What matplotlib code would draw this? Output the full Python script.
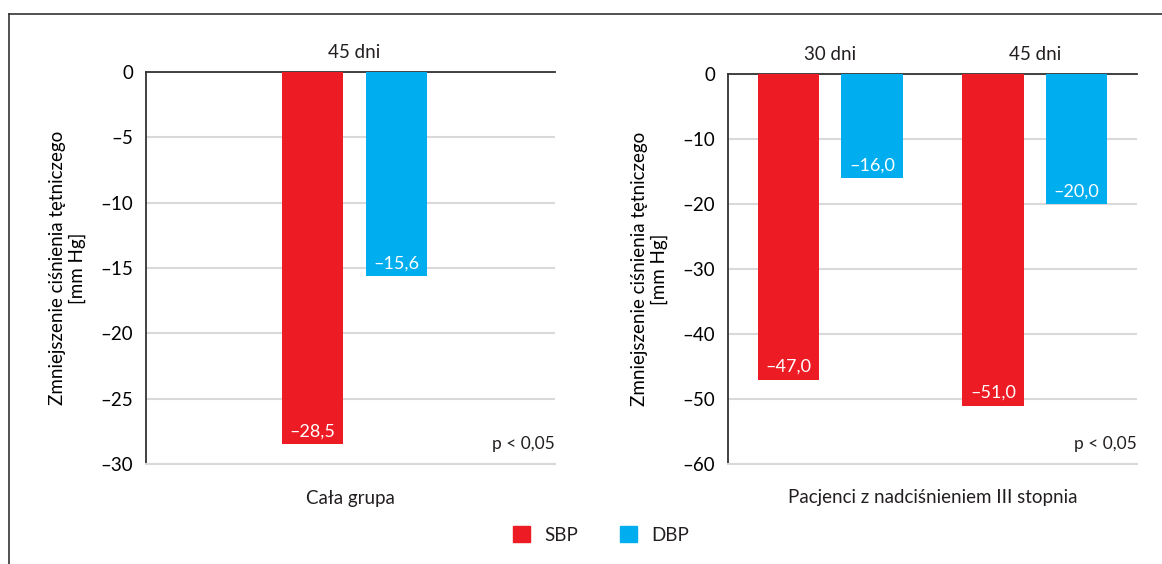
import matplotlib
matplotlib.use("Agg")
import matplotlib.pyplot as plt
from matplotlib.lines import Line2D
from matplotlib.patches import Patch
from matplotlib.ticker import FuncFormatter

plt.rcParams['font.family'] = ['Lato', 'DejaVu Sans']
plt.rcParams['font.size'] = 13.5
plt.rcParams['text.color'] = '#231f20'

# dane
series = ['SBP', 'DBP']
colors = ['#ed1c24', '#00aeef']

left_groups = ['45 dni']
left_sbp = [-28.5]
left_dbp = [-15.6]
left_ticks = [0, -5, -10, -15, -20, -25, -30]
left_title = 'Cała grupa'

right_groups = ['30 dni', '45 dni']
right_sbp = [-47.0, -51.0]
right_dbp = [-16.0, -20.0]
right_ticks = [0, -10, -20, -30, -40, -50, -60]
right_title = 'Pacjenci z nadciśnieniem III stopnia'

ylabel = 'Zmniejszenie ciśnienia tętniczego\n[mm Hg]'
p_text = 'p < 0,05'

fig = plt.figure(figsize=(11.62, 5.64), dpi=100)

# ramka: górna i lewa linia
fig.add_artist(Line2D([9/1162, 1], [1-14/564, 1-14/564], color='#333333', lw=1.2))
fig.add_artist(Line2D([9/1162, 9/1162], [0, 1-14/564], color='#333333', lw=1.2))

bw = 0.30
off = 0.205


def fmt(v):
    s = f'{abs(v):.1f}'.replace('.', ',')
    return ('–' + s) if v < 0 else s


def panel(rect, groups, sbp, dbp, ticks, xlim, title):
    ax = fig.add_axes(rect)
    xs = list(range(len(groups)))
    for vals, c, sgn in [(sbp, colors[0], -1), (dbp, colors[1], 1)]:
        pos = [x + sgn * off for x in xs]
        ax.bar(pos, vals, width=bw, color=c, zorder=3)
        for x, v in zip(pos, vals):
            ax.annotate(fmt(v), (x, v), xytext=(0, 9), textcoords='offset points',
                        ha='center', va='center', color='white', fontsize=13, zorder=4)
    ax.set_xlim(*xlim)
    ax.set_ylim(ticks[-1], 0)
    ax.set_yticks(ticks)
    ax.yaxis.set_major_formatter(FuncFormatter(
        lambda v, p: ('–' + str(int(abs(v)))) if v < 0 else str(int(v))))
    ax.set_xticks([])
    ax.tick_params(axis='y', length=0, pad=9, labelsize=13.5)
    ax.grid(axis='y', color='#d9d9d9', lw=1.5, zorder=0)
    ax.spines['right'].set_visible(False)
    ax.spines['top'].set_color('#333333')
    ax.spines['left'].set_color('#333333')
    ax.spines['top'].set_linewidth(1.3)
    ax.spines['left'].set_linewidth(1.3)
    ax.spines['bottom'].set_color('#d9d9d9')
    ax.spines['bottom'].set_linewidth(1.5)
    ax.set_ylabel(ylabel, fontsize=13.5, linespacing=1.15)
    ax.yaxis.set_label_coords(-0.147, 0.5)
    for x, g in zip(xs, groups):
        ax.annotate(g, (x, 1), xycoords=('data', 'axes fraction'), xytext=(0, 14),
                    textcoords='offset points', ha='center', va='center', fontsize=13.5)
    ax.text(0.5, -0.087, title, transform=ax.transAxes, ha='center', va='center',
            fontsize=13.5)
    ax.text(1.0, 0.051, p_text, transform=ax.transAxes, ha='right', va='center',
            fontsize=12.5)
    return ax


panel([146/1162, 1-464/564, 409/1162, 392/564], left_groups, left_sbp, left_dbp,
      left_ticks, (-1.02, 0.98), left_title)
panel([728/1162, 1-464/564, 409/1162, 390/564], right_groups, right_sbp, right_dbp,
      right_ticks, (-0.5, 1.5), right_title)

handles = [Patch(color=c) for c in colors]
fig.legend(handles, series, loc='center', bbox_to_anchor=(601/1162, 1-535/564),
           ncol=2, frameon=False, handlelength=0.9, handleheight=0.9,
           handletextpad=0.8, columnspacing=2.2, fontsize=13.5)

fig.savefig('out.png', dpi=100)
